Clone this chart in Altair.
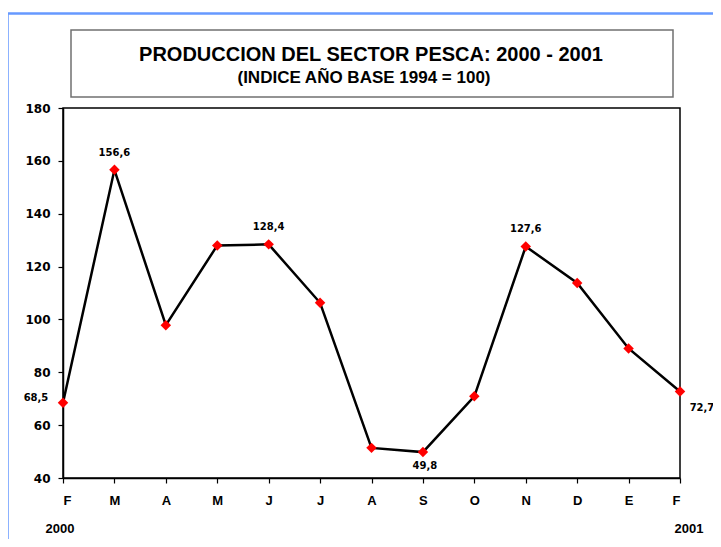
import json
import altair as alt
import pandas as pd

months = ["F", "M", "A", "M", "J", "J", "A", "S", "O", "N", "D", "E", "F"]
values = [68.5, 156.6, 97.8, 128.0, 128.4, 106.3, 51.4, 49.8, 70.9, 127.6, 113.8, 89.0, 72.7]
label_above = [1, 4, 9]
label_below = [7]
label_left = [0]
label_right = [12]
title_text = "PRODUCCION DEL SECTOR PESCA: 2000 - 2001"
subtitle_text = "(INDICE AÑO BASE 1994 = 100)"
year_labels = ["2000", "2001"]

df = pd.DataFrame({
    "i": list(range(len(values))),
    "mes": months,
    "valor": values,
    "etiqueta": [f"{v:.1f}".replace(".", ",") for v in values],
})

FONT = "Liberation Sans"
WIDE = "DejaVu Sans"
W, H = 617, 370

x = alt.X("i:Q", scale=alt.Scale(domain=[0, 12], nice=False, zero=False),
          axis=alt.Axis(values=list(range(13)), title=None, grid=False,
                        labelExpr=f"{json.dumps(months)}[datum.value]",
                        labelFont=FONT, labelFontWeight="bold", labelFontSize=13,
                        labelColor="black", labelPadding=11, tickSize=5,
                        tickColor="black", domainColor="black", domainWidth=1.5,
                        tickWidth=1.2))
y = alt.Y("valor:Q", scale=alt.Scale(domain=[40, 180], nice=False, zero=False),
          axis=alt.Axis(values=[40, 60, 80, 100, 120, 140, 160, 180], title=None, grid=False,
                        labelFont=WIDE, labelFontWeight="bold", labelFontSize=12,
                        labelColor="black", labelPadding=8, tickSize=5,
                        tickColor="black", domainColor="black", domainWidth=1.5,
                        tickWidth=1.2))

base = alt.Chart(df)

line = base.mark_line(color="black", strokeWidth=2.5).encode(x=x, y=y)
pts = base.mark_point(shape="diamond", filled=True, color="#ff0000", size=110, opacity=1).encode(x=x, y=y)

def lbl(idx, dx, dy, align="center"):
    return base.transform_filter(
        alt.FieldOneOfPredicate(field="i", oneOf=idx)
    ).mark_text(font=WIDE, fontWeight="bold", fontSize=10, color="black",
                dx=dx, dy=dy, align=align).encode(x="i:Q", y="valor:Q", text="etiqueta:N")

above = lbl(label_above, 0, -17)
below = lbl(label_below, 2, 14)
left = lbl(label_left, -27, -5)
right = lbl(label_right, 22, 16)

# title box
tbox = alt.Chart(pd.DataFrame({"a": [0]})).mark_rect(
    fill="white", stroke="#707070", strokeWidth=1.5
).encode(x=alt.value(8), x2=alt.value(610), y=alt.value(-78), y2=alt.value(-11))

t1 = alt.Chart(pd.DataFrame({"t": [title_text]})).mark_text(
    font=FONT, fontWeight="bold", fontSize=20, color="black", baseline="middle"
).encode(x=alt.value(308), y=alt.value(-53), text="t:N")
t2 = alt.Chart(pd.DataFrame({"t": [subtitle_text]})).mark_text(
    font=FONT, fontWeight="bold", fontSize=17, color="black", baseline="middle"
).encode(x=alt.value(301), y=alt.value(-30), text="t:N")

y1 = alt.Chart(pd.DataFrame({"t": [year_labels[0]]})).mark_text(
    font=FONT, fontWeight="bold", fontSize=13, color="black", baseline="middle"
).encode(x=alt.value(-3), y=alt.value(421), text="t:N")
y2 = alt.Chart(pd.DataFrame({"t": [year_labels[1]]})).mark_text(
    font=FONT, fontWeight="bold", fontSize=13, color="black", baseline="middle"
).encode(x=alt.value(626), y=alt.value(421), text="t:N")

# blue frame
blue_l = alt.Chart(pd.DataFrame({"a": [0]})).mark_rule(color="#6699ff", strokeWidth=2.5).encode(
    x=alt.value(-55.5), y=alt.value(-95), y2=alt.value(460))
blue_t = alt.Chart(pd.DataFrame({"a": [0]})).mark_rule(color="#6699ff", strokeWidth=2.5).encode(
    x=alt.value(-56.5), x2=alt.value(700), y=alt.value(-94.5))

chart = alt.layer(
    blue_l, blue_t, tbox, t1, t2, line, pts, above, below, left, right, y1, y2
).properties(
    width=W, height=H,
    autosize=alt.AutoSizeParams(type="none"),
    padding={"left": 55, "top": 100, "right": 33, "bottom": 61},
    background="white",
).configure_view(stroke="black", strokeWidth=1.5)

chart.save("out.html", embed_options={"renderer": "svg", "actions": False})
